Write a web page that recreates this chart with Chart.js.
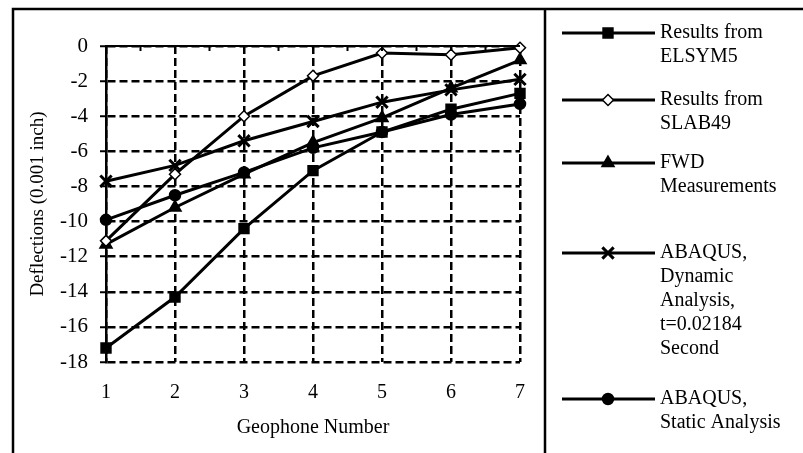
<!DOCTYPE html>
<html>
<head>
<meta charset="utf-8">
<script src="https://cdn.jsdelivr.net/npm/chart.js@4/dist/chart.umd.min.js"></script>
<style>
  html, body { margin: 0; padding: 0; background: #fff; }
  #chart { display: block; }
</style>
</head>
<body>
<canvas id="chart" width="803" height="453"></canvas>
<script>
// 横軸: ジオフォン番号
const geophones = [1, 2, 3, 4, 5, 6, 7];

// たわみ (0.001 inch)
const elsym5 = [-17.2, -14.3, -10.4, -7.1, -4.9, -3.6, -2.7];
const slab49 = [-11.1, -7.3, -4.0, -1.7, -0.4, -0.5, -0.1];
const fwd = [-11.3, -9.2, -7.3, -5.5, -4.1, -2.4, -0.8];
const abaqusDynamic = [-7.7, -6.8, -5.4, -4.3, -3.2, -2.5, -1.9];
const abaqusStatic = [-9.9, -8.5, -7.2, -5.8, -4.9, -3.9, -3.3];

const yTicks = [0, -2, -4, -6, -8, -10, -12, -14, -16, -18];

const seriesLabels = [
  ["Results from", "ELSYM5"],
  ["Results from", "SLAB49"],
  ["FWD", "Measurements"],
  ["ABAQUS,", "Dynamic", "Analysis,", "t=0.02184", "Second"],
  ["ABAQUS,", "Static Analysis"],
];

const FONT = "'Liberation Serif', 'Times New Roman', serif";

function toPoints(values) {
  return geophones.map((g, i) => ({ x: g, y: values[i] }));
}

function makeDataset(label, values, style, radius, fill) {
  return {
    label: label.join(" "),
    data: toPoints(values),
    borderColor: "#000",
    borderWidth: 3,
    pointStyle: style,
    pointRadius: radius,
    pointBackgroundColor: fill,
    pointBorderColor: "#000",
    pointBorderWidth: style === "crossRot" ? 3 : 1.5,
    tension: 0,
    clip: false,
  };
}

// 外枠と凡例
const framePlugin = {
  id: "frame",
  beforeDraw(chart) {
    const ctx = chart.ctx;
    ctx.save();
    ctx.fillStyle = "#fff";
    ctx.fillRect(0, 0, chart.width, chart.height);
    ctx.restore();
  },
  afterDraw(chart) {
    const ctx = chart.ctx;
    const xs = chart.scales.x;
    const area = chart.chartArea;
    ctx.save();
    ctx.strokeStyle = "#000";
    ctx.lineWidth = 2.5;
    ctx.beginPath();
    ctx.moveTo(13, 453);
    ctx.lineTo(13, 9);
    ctx.lineTo(803, 9);
    ctx.moveTo(545, 9);
    ctx.lineTo(545, 453);
    ctx.stroke();

    // 上端の実線と補助目盛
    ctx.lineWidth = 2;
    ctx.beginPath();
    ctx.moveTo(area.left, area.top);
    ctx.lineTo(area.right, area.top);
    for (let g = 1.5; g < 7; g += 0.5) {
      const px = xs.getPixelForValue(g);
      ctx.moveTo(px, area.top);
      ctx.lineTo(px, area.top + 5);
    }
    ctx.stroke();

    // 凡例
    const itemY = [33, 100, 163, 253, 399];
    const lineH = 24;
    ctx.font = "20px " + FONT;
    ctx.textBaseline = "middle";
    ctx.textAlign = "left";
    chart.data.datasets.forEach((ds, i) => {
      const y = itemY[i];
      ctx.strokeStyle = "#000";
      ctx.lineWidth = 3;
      ctx.beginPath();
      ctx.moveTo(562, y);
      ctx.lineTo(655, y);
      ctx.stroke();
      ctx.fillStyle = ds.pointBackgroundColor;
      ctx.strokeStyle = "#000";
      ctx.lineWidth = ds.pointBorderWidth;
      if (Chart.helpers && Chart.helpers.drawPoint) {
        Chart.helpers.drawPoint(ctx, {
          pointStyle: ds.pointStyle,
          radius: ds.pointRadius,
          borderWidth: ds.pointBorderWidth,
          rotation: 0,
        }, 608, y);
      }
      ctx.fillStyle = "#000";
      seriesLabels[i].forEach((t, j) => {
        ctx.fillText(t, 660, y + j * lineH);
      });
    });
    ctx.restore();
  },
};

new Chart(document.getElementById("chart"), {
  type: "line",
  data: {
    datasets: [
      makeDataset(seriesLabels[0], elsym5, "rect", 7, "#000"),
      makeDataset(seriesLabels[1], slab49, "rectRot", 5.5, "#fff"),
      makeDataset(seriesLabels[2], fwd, "triangle", 7, "#000"),
      makeDataset(seriesLabels[3], abaqusDynamic, "crossRot", 8, "#000"),
      makeDataset(seriesLabels[4], abaqusStatic, "circle", 5.5, "#000"),
    ],
  },
  options: {
    responsive: false,
    devicePixelRatio: 1,
    animation: false,
    layout: { padding: { left: 0, right: 283, top: 46, bottom: 0 } },
    plugins: {
      legend: { display: false },
      tooltip: { enabled: false },
    },
    scales: {
      x: {
        type: "linear",
        min: 1,
        max: 7,
        afterFit: (s) => { s.height = 91; },
        afterBuildTicks: (s) => { s.ticks = geophones.map((v) => ({ value: v })); },
        grid: { color: "#000", lineWidth: 2.5, drawTicks: false },
        border: { display: false, dash: [8, 4] },
        ticks: {
          padding: 19,
          color: "#000",
          font: { family: FONT, size: 20 },
          maxRotation: 0,
        },
        title: {
          display: true,
          text: "Geophone Number",
          color: "#000",
          font: { family: FONT, size: 20 },
          padding: { top: 0, bottom: 13 },
        },
      },
      y: {
        min: -18,
        max: 0,
        afterFit: (s) => { s.width = 106; },
        afterBuildTicks: (s) => { s.ticks = yTicks.map((v) => ({ value: v })); },
        grid: { color: "#000", lineWidth: 2.5, tickLength: 6, tickColor: "#000", tickWidth: 2, tickBorderDash: [] },
        border: { display: true, color: "#000", width: 2.5, dash: [8, 4] },
        ticks: {
          padding: 12,
          color: "#000",
          font: { family: FONT, size: 21 },
        },
        title: {
          display: true,
          text: "Deflections (0.001 inch)",
          color: "#000",
          font: { family: FONT, size: 19 },
          padding: { top: 27, bottom: 0 },
        },
      },
    },
  },
  plugins: [framePlugin],
});
</script>
</body>
</html>
